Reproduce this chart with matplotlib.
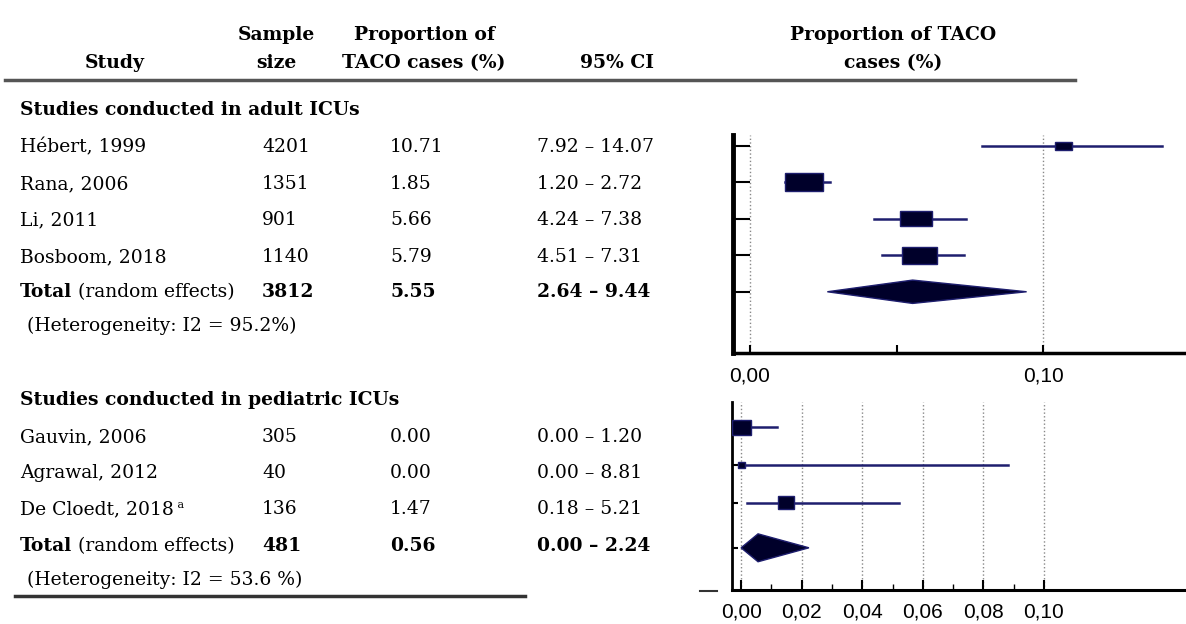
import numpy as np
import matplotlib.pyplot as plt
from matplotlib.patches import Rectangle, Polygon

# --- data (proportions in %) ---
adult_study = ["Hébert, 1999", "Rana, 2006", "Li, 2011", "Bosboom, 2018"]
adult_n = [4201, 1351, 901, 1140]
adult_p = [10.71, 1.85, 5.66, 5.79]
adult_lo = [7.92, 1.20, 4.24, 4.51]
adult_hi = [14.07, 2.72, 7.38, 7.31]
adult_weight = [0.45, 1.0, 0.84, 0.92]
adult_total = [3812, 5.55, 2.64, 9.44]
adult_i2 = "95.2%"

ped_study = ["Gauvin, 2006", "Agrawal, 2012", "De Cloedt, 2018"]
ped_n = [305, 40, 136]
ped_p = [0.00, 0.00, 1.47]
ped_lo = [0.00, 0.00, 0.18]
ped_hi = [1.20, 8.81, 5.21]
ped_weight = [1.0, 0.37, 0.85]
ped_total = [481, 0.56, 0.00, 2.24]
ped_i2 = "53.6 %"

W, H = 1186, 624
box_col = "#00002a"
ci_col = "#1e1e6e"
serif = "DejaVu Serif"
fs = 13.5

fig = plt.figure(figsize=(W / 100, H / 100), dpi=100)
bg = fig.add_axes([0, 0, 1, 1])
bg.set_xlim(0, W)
bg.set_ylim(H, 0)
bg.axis("off")


def txt(x, y, s, bold=False, ha="left", size=fs):
    return bg.text(x, y, s, ha=ha, va="center", family=serif, fontsize=size,
                   fontweight="bold" if bold else "normal")


def after(t, s, bold=False, size=fs, dy=0):
    return bg.annotate(s, xy=(1, 0), xycoords=t, xytext=(0, dy), textcoords="offset points",
                       ha="left", va="bottom", family=serif, fontsize=size,
                       fontweight="bold" if bold else "normal")


# header
txt(115, 63, "Study", True, "center")
txt(276, 35, "Sample", True, "center")
txt(276, 63, "size", True, "center")
txt(424, 35, "Proportion of", True, "center")
txt(424, 63, "TACO cases (%)", True, "center")
txt(617, 63, "95% CI", True, "center")
txt(893, 35, "Proportion of TACO", True, "center")
txt(893, 63, "cases (%)", True, "center")
bg.plot([5, 1075], [80, 80], color="#555555", lw=2.5)

cols = [20, 262, 390, 537]


def table(title, ty, studies, n, p, lo, hi, total, i2, rows_y, sup=None):
    txt(cols[0], ty, title, True)
    for i, s in enumerate(studies):
        t = txt(cols[0], rows_y[i], s)
        if sup is not None and i == sup:
            after(t, " a", size=8, dy=6)
        txt(cols[1], rows_y[i], str(n[i]))
        txt(cols[2], rows_y[i], f"{p[i]:.2f}")
        txt(cols[3], rows_y[i], f"{lo[i]:.2f} – {hi[i]:.2f}")
    y = rows_y[len(studies)]
    t = txt(cols[0], y, "Total", True)
    after(t, " (random effects)")
    txt(cols[1], y, str(total[0]), True)
    txt(cols[2], y, f"{total[1]:.2f}", True)
    txt(cols[3], y, f"{total[2]:.2f} – {total[3]:.2f}", True)
    txt(27, rows_y[-1], f"(Heterogeneity: I2 = {i2})")


table("Studies conducted in adult ICUs", 110, adult_study, adult_n, adult_p, adult_lo,
      adult_hi, adult_total, adult_i2, [147, 184, 220, 257, 292, 326])
table("Studies conducted in pediatric ICUs", 400, ped_study, ped_n, ped_p, ped_lo,
      ped_hi, ped_total, ped_i2, [437, 473, 509, 546, 580], sup=2)
bg.plot([15, 525], [596, 596], color="#333333", lw=2.5)
bg.plot([700, 717], [591, 591], color="#333333", lw=1.5)


def px_axes(l, t, r, b):
    return fig.add_axes([l / W, 1 - b / H, (r - l) / W, (b - t) / H])


def forest(ax, p, lo, hi, weight, total, rows, trow, box_px, dh):
    x0, x1 = ax.get_xlim()
    y0, y1 = ax.get_ylim()
    bb = ax.get_position()
    sx = bb.width * W / (x1 - x0)
    sy = bb.height * H / abs(y0 - y1)
    for i in range(len(p)):
        ax.plot([lo[i] / 100, hi[i] / 100], [rows[i], rows[i]], color=ci_col, lw=1.8, zorder=2)
        bw = weight[i] * box_px[0] / sx
        bh = weight[i] * box_px[1] / sy
        ax.add_patch(Rectangle((p[i] / 100 - bw / 2, rows[i] - bh / 2), bw, bh,
                               facecolor=box_col, edgecolor=ci_col, lw=1, zorder=3))
    m, a, b = total[1] / 100, total[2] / 100, total[3] / 100
    ax.add_patch(Polygon([(a, trow), (m, trow - dh), (b, trow), (m, trow + dh)],
                         closed=True, facecolor=box_col, edgecolor=ci_col, lw=1, zorder=3))
    ax.set_yticks(list(rows) + [trow])
    ax.set_yticklabels([])
    for s in ["top", "right"]:
        ax.spines[s].set_visible(False)


def fmt(v):
    return f"{v:.2f}".replace(".", ",")


# adult panel
ax1 = px_axes(733, 135, 1186, 353)
ax1.set_xlim(-0.0058, 0.1488)
ax1.set_ylim(5.68, -0.3)
forest(ax1, adult_p, adult_lo, adult_hi, adult_weight, adult_total,
       [0, 1, 2, 3], 4, (38, 18), 0.32)
for g in [0, 0.1]:
    ax1.axvline(g, color="#888888", ls=":", lw=1, zorder=1)
ax1.set_xticks([0, 0.05, 0.1])
ax1.set_xticklabels([fmt(0), "", fmt(0.1)])
ax1.spines["left"].set_linewidth(3.5)
ax1.spines["bottom"].set_linewidth(2.5)
ax1.tick_params(axis="y", direction="in", length=12, width=1.5)
ax1.tick_params(axis="x", direction="in", length=6, width=1.5, pad=10, labelsize=15)

# pediatric panel
ax2 = px_axes(732, 402, 1186, 590)
ax2.set_xlim(-0.003, 0.1469)
ax2.set_ylim(4.32, -0.67)
forest(ax2, ped_p, ped_lo, ped_hi, ped_weight, ped_total,
       [0, 1, 2], 3.2, (19, 15), 0.37)
ticks = np.arange(0, 0.101, 0.02)
ax2.set_xticks(ticks)
ax2.set_xticklabels([fmt(v) for v in ticks])
ax2.set_xticks(np.arange(0.01, 0.1, 0.02), minor=True)
ax2.grid(axis="x", which="major", color="#888888", ls=":", lw=1)
ax2.set_axisbelow(True)
ax2.spines["left"].set_linewidth(2)
ax2.spines["bottom"].set_linewidth(2.2)
ax2.tick_params(axis="y", direction="in", length=4, width=1.5)
ax2.tick_params(axis="x", which="major", direction="in", length=7, width=1.5, pad=9, labelsize=15)
ax2.tick_params(axis="x", which="minor", direction="in", length=4, width=1)

for ax in (ax1, ax2):
    for lab in ax.get_xticklabels():
        lab.set_family("Liberation Sans")

fig.savefig("out.png", dpi=100)
